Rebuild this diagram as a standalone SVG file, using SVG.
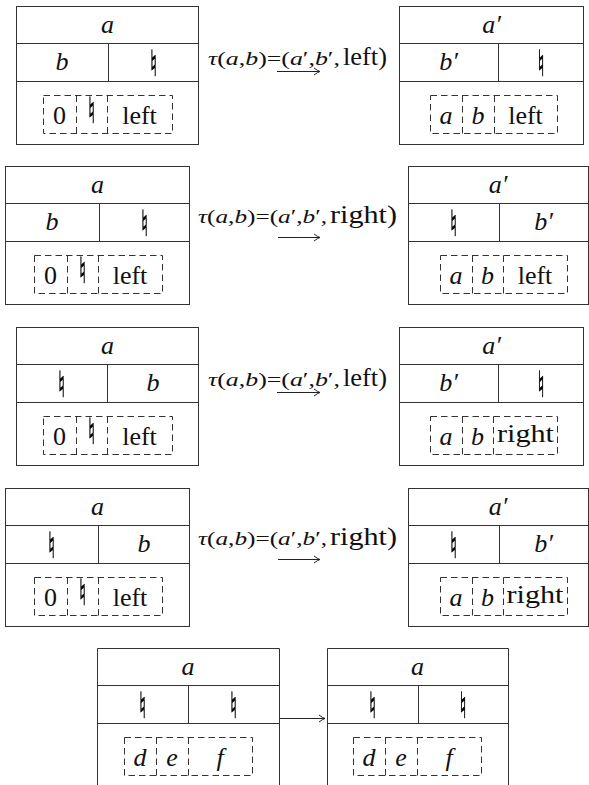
<svg xmlns="http://www.w3.org/2000/svg" width="589" height="785" viewBox="0 0 589 785">
<style>
.bx{fill:none;stroke:#333;stroke-width:1}
.dl{fill:none;stroke:#333;stroke-width:1;stroke-dasharray:6.5 4}
text{font-family:"Liberation Serif","Times New Roman",serif;fill:#111;text-anchor:middle}
.m{font-style:italic;font-size:26px}
.r{font-size:26px}
.n{font-family:"DejaVu Sans",sans-serif;font-size:36px;fill:#000;stroke:#000;stroke-width:0.7}
.nat{filter:url(#gray)}
.lab{font-size:19px;text-anchor:start}
.labr{font-size:26px;text-anchor:start}
.it{font-style:italic}
.ar{fill:none;stroke:#222;stroke-width:1}
</style>
<defs>
<filter id="gray" x="-50%" y="-20%" width="200%" height="140%">
<feColorMatrix type="saturate" values="0"/>
</filter>
<marker id="ah" markerUnits="userSpaceOnUse" viewBox="-8 -5 10 10" refX="0" refY="0" markerWidth="10" markerHeight="10" orient="auto">
<path d="M-6,-3.5 Q-2.5,-0.8 0,0 Q-2.5,0.8 -6,3.5" fill="none" stroke="#222" stroke-width="1"/>
</marker>
</defs>

<!-- Row 1 -->
<g id="r1-left">
<rect class="bx" x="16.5" y="6.5" width="182" height="138"/>
<path class="bx" d="M16.5,43.5H198.5M16.5,81.5H198.5M108.5,43.5V81.5"/>
<rect class="dl" x="43.5" y="95.5" width="129" height="38"/>
<path class="dl" d="M76.5,95.5V133.5M107.5,95.5V133.5"/>
<text class="m" x="107.5" y="33">a</text>
<text class="m" x="62" y="70">b</text>
<text class="r" x="59.5" y="124">0</text>
<text class="r" x="139.5" y="124">left</text>
<g class="nat">
<text class="n" transform="translate(153.5,76) scale(0.55,1)">♮</text>
<text class="n" transform="translate(91.5,123) scale(0.55,1)">♮</text>
</g>
</g>
<g id="r1-right">
<rect class="bx" x="399.5" y="6.5" width="184" height="138"/>
<path class="bx" d="M399.5,43.5H583.5M399.5,81.5H583.5M498.5,43.5V81.5"/>
<rect class="dl" x="430.5" y="95.5" width="127" height="38"/>
<path class="dl" d="M462.5,95.5V133.5M494.5,95.5V133.5"/>
<text class="m" x="491.5" y="33">a′</text>
<text class="m" x="448.5" y="70">b′</text>
<text class="m" x="446" y="124">a</text>
<text class="m" x="478" y="124">b</text>
<text class="r" x="525.5" y="124">left</text>
<g class="nat">
<text class="n" transform="translate(541,76) scale(0.55,1)">♮</text>
</g>
</g>

<!-- Row 2 -->
<g id="r2-left">
<rect class="bx" x="5.5" y="166.5" width="184" height="138"/>
<path class="bx" d="M5.5,203.5H189.5M5.5,241.5H189.5M99.5,203.5V241.5"/>
<rect class="dl" x="34.5" y="255.5" width="128" height="38"/>
<path class="dl" d="M67.5,255.5V293.5M98.5,255.5V293.5"/>
<text class="m" x="97.5" y="193">a</text>
<text class="m" x="52" y="230">b</text>
<text class="r" x="50.5" y="284">0</text>
<text class="r" x="130" y="284">left</text>
<g class="nat">
<text class="n" transform="translate(144.5,236) scale(0.55,1)">♮</text>
<text class="n" transform="translate(82.5,283) scale(0.55,1)">♮</text>
</g>
</g>
<g id="r2-right">
<rect class="bx" x="408.5" y="166.5" width="180" height="138"/>
<path class="bx" d="M408.5,203.5H588.5M408.5,241.5H588.5M499.5,203.5V241.5"/>
<rect class="dl" x="440.5" y="255.5" width="127" height="38"/>
<path class="dl" d="M472.5,255.5V293.5M503.5,255.5V293.5"/>
<text class="m" x="498" y="193">a′</text>
<text class="m" x="543.5" y="230">b′</text>
<text class="m" x="456" y="284">a</text>
<text class="m" x="487.5" y="284">b</text>
<text class="r" x="535" y="284">left</text>
<g class="nat">
<text class="n" transform="translate(453.5,236) scale(0.55,1)">♮</text>
</g>
</g>

<!-- Row 3 -->
<g id="r3-left">
<rect class="bx" x="16.5" y="327.5" width="182" height="138"/>
<path class="bx" d="M16.5,364.5H198.5M16.5,402.5H198.5M107.5,364.5V402.5"/>
<rect class="dl" x="43.5" y="416.5" width="129" height="38"/>
<path class="dl" d="M76.5,416.5V454.5M107.5,416.5V454.5"/>
<text class="m" x="107.5" y="354">a</text>
<text class="m" x="153" y="391">b</text>
<text class="r" x="59.5" y="445">0</text>
<text class="r" x="139.5" y="445">left</text>
<g class="nat">
<text class="n" transform="translate(61.5,397) scale(0.55,1)">♮</text>
<text class="n" transform="translate(91.5,444) scale(0.55,1)">♮</text>
</g>
</g>
<g id="r3-right">
<rect class="bx" x="399.5" y="327.5" width="184" height="138"/>
<path class="bx" d="M399.5,364.5H583.5M399.5,402.5H583.5M498.5,364.5V402.5"/>
<rect class="dl" x="430.5" y="416.5" width="127" height="38"/>
<path class="dl" d="M462.5,416.5V454.5M493.5,416.5V454.5"/>
<text class="m" x="491.5" y="354">a′</text>
<text class="m" x="448.5" y="391">b′</text>
<text class="m" x="446" y="445">a</text>
<text class="m" x="477.5" y="445">b</text>
<text class="r" x="525.5" y="442" textLength="57" lengthAdjust="spacingAndGlyphs">right</text>
<g class="nat">
<text class="n" transform="translate(541,397) scale(0.55,1)">♮</text>
</g>
</g>

<!-- Row 4 -->
<g id="r4-left">
<rect class="bx" x="5.5" y="488.5" width="184" height="138"/>
<path class="bx" d="M5.5,525.5H189.5M5.5,563.5H189.5M98.5,525.5V563.5"/>
<rect class="dl" x="34.5" y="577.5" width="128" height="38"/>
<path class="dl" d="M67.5,577.5V615.5M98.5,577.5V615.5"/>
<text class="m" x="97.5" y="515">a</text>
<text class="m" x="144" y="552">b</text>
<text class="r" x="50.5" y="606">0</text>
<text class="r" x="130" y="606">left</text>
<g class="nat">
<text class="n" transform="translate(51.5,558) scale(0.55,1)">♮</text>
<text class="n" transform="translate(82.5,605) scale(0.55,1)">♮</text>
</g>
</g>
<g id="r4-right">
<rect class="bx" x="408.5" y="488.5" width="180" height="138"/>
<path class="bx" d="M408.5,525.5H588.5M408.5,563.5H588.5M499.5,525.5V563.5"/>
<rect class="dl" x="440.5" y="577.5" width="127" height="38"/>
<path class="dl" d="M472.5,577.5V615.5M503.5,577.5V615.5"/>
<text class="m" x="498" y="515">a′</text>
<text class="m" x="543.5" y="552">b′</text>
<text class="m" x="456" y="606">a</text>
<text class="m" x="487.5" y="606">b</text>
<text class="r" x="535" y="603" textLength="57" lengthAdjust="spacingAndGlyphs">right</text>
<g class="nat">
<text class="n" transform="translate(453.5,558) scale(0.55,1)">♮</text>
</g>
</g>

<!-- Row 5 -->
<g id="r5-left">
<path class="bx" d="M97.5,786V648.5H279.5V786M97.5,685.5H279.5M97.5,723.5H279.5M188.5,685.5V723.5"/>
<rect class="dl" x="124.5" y="737.5" width="128" height="38"/>
<path class="dl" d="M156.5,737.5V775.5M188.5,737.5V775.5"/>
<text class="m" x="188" y="675">a</text>
<text class="m" x="140" y="766">d</text>
<text class="m" x="172" y="766">e</text>
<text class="m" x="220" y="766">f</text>
<g class="nat">
<text class="n" transform="translate(142.5,718) scale(0.55,1)">♮</text>
<text class="n" transform="translate(233.5,718) scale(0.55,1)">♮</text>
</g>
</g>
<g id="r5-right">
<path class="bx" d="M327.5,786V648.5H508.5V786M327.5,685.5H508.5M327.5,723.5H508.5M418.5,685.5V723.5"/>
<rect class="dl" x="353.5" y="737.5" width="128" height="38"/>
<path class="dl" d="M385.5,737.5V775.5M417.5,737.5V775.5"/>
<text class="m" x="417.5" y="675">a</text>
<text class="m" x="369" y="766">d</text>
<text class="m" x="401" y="766">e</text>
<text class="m" x="449" y="766">f</text>
<g class="nat">
<text class="n" transform="translate(372.5,718) scale(0.55,1)">♮</text>
<text class="n" transform="translate(463,718) scale(0.55,1)">♮</text>
</g>
</g>

<g id="connectors">
<path class="ar" d="M277,71.5H320" marker-end="url(#ah)"/>
<text class="lab" x="208" y="65" textLength="132" lengthAdjust="spacingAndGlyphs"><tspan class="it">τ</tspan>(<tspan class="it">a</tspan>,<tspan class="it">b</tspan>)=(<tspan class="it">a</tspan>′,<tspan class="it">b</tspan>′,</text>
<text class="labr" x="343" y="65" textLength="44" lengthAdjust="spacingAndGlyphs">left)</text>

<path class="ar" d="M278,237.5H320" marker-end="url(#ah)"/>
<text class="lab" x="198" y="223" textLength="129" lengthAdjust="spacingAndGlyphs"><tspan class="it">τ</tspan>(<tspan class="it">a</tspan>,<tspan class="it">b</tspan>)=(<tspan class="it">a</tspan>′,<tspan class="it">b</tspan>′,</text>
<text class="labr" x="330" y="223" textLength="67" lengthAdjust="spacingAndGlyphs">right)</text>

<path class="ar" d="M277,392.5H320" marker-end="url(#ah)"/>
<text class="lab" x="208" y="386" textLength="132" lengthAdjust="spacingAndGlyphs"><tspan class="it">τ</tspan>(<tspan class="it">a</tspan>,<tspan class="it">b</tspan>)=(<tspan class="it">a</tspan>′,<tspan class="it">b</tspan>′,</text>
<text class="labr" x="343" y="386" textLength="44" lengthAdjust="spacingAndGlyphs">left)</text>

<path class="ar" d="M278,559.5H320" marker-end="url(#ah)"/>
<text class="lab" x="198" y="545" textLength="129" lengthAdjust="spacingAndGlyphs"><tspan class="it">τ</tspan>(<tspan class="it">a</tspan>,<tspan class="it">b</tspan>)=(<tspan class="it">a</tspan>′,<tspan class="it">b</tspan>′,</text>
<text class="labr" x="330" y="545" textLength="67" lengthAdjust="spacingAndGlyphs">right)</text>

<path class="ar" d="M279.5,718.5H325" marker-end="url(#ah)"/>
</g>
</svg>
